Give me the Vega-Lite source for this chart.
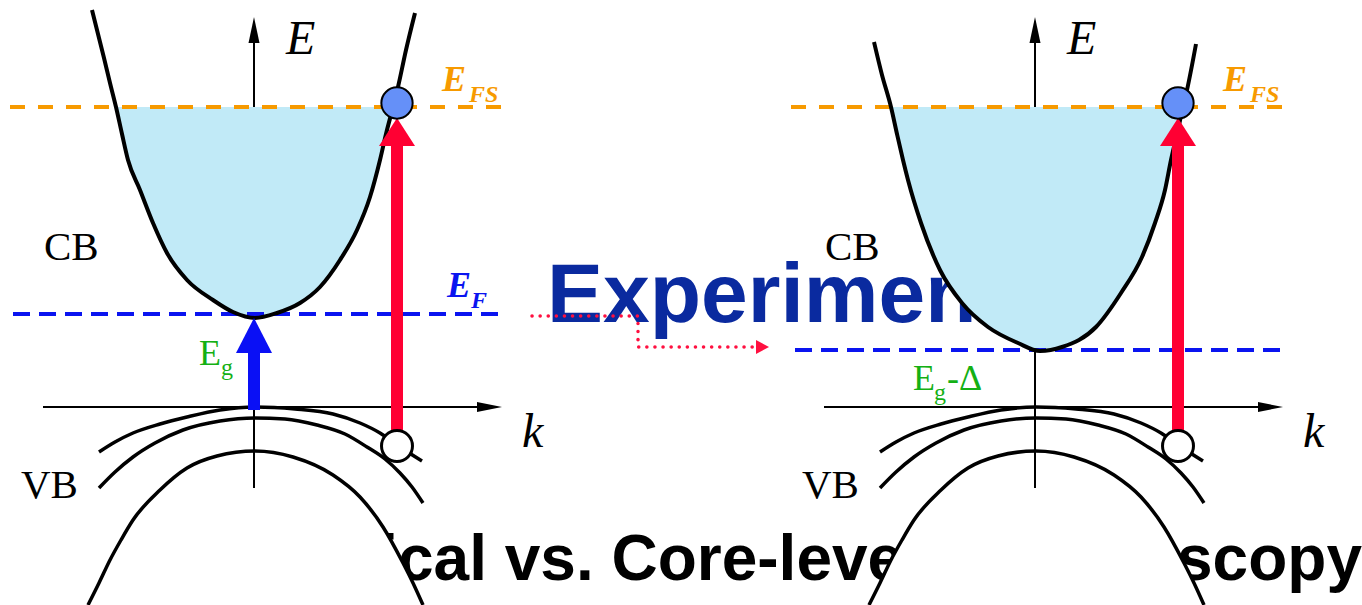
{
  "$schema": "https://vega.github.io/schema/vega-lite/v6.json",
  "width": 1362,
  "height": 605,
  "padding": 0,
  "autosize": {"type": "none"},
  "background": "white",
  "config": {"view": {"stroke": null}, "axis": {"disable": true}, "legend": {"disable": true}},
  "datasets": {
    "labels": [
      {"g": "exp", "x": 547, "y": 322, "t": "Experiment"},
      {"g": "title", "x": 270, "y": 580, "t": "Optical vs. Core-level Spectroscopy"},
      {"g": "ital", "x": 286, "y": 54, "t": "E"},
      {"g": "ital", "x": 1067, "y": 54, "t": "E"},
      {"g": "ital", "x": 522, "y": 447, "t": "k"},
      {"g": "ital", "x": 1303, "y": 447, "t": "k"},
      {"g": "serif", "x": 44, "y": 260, "t": "CB"},
      {"g": "serif", "x": 825, "y": 260, "t": "CB"},
      {"g": "serif", "x": 21, "y": 498, "t": "VB"},
      {"g": "serif", "x": 802, "y": 498, "t": "VB"},
      {"g": "efs", "x": 442, "y": 91, "t": "E"},
      {"g": "efs", "x": 1223, "y": 91, "t": "E"},
      {"g": "efs_sub", "x": 469, "y": 102, "t": "FS"},
      {"g": "efs_sub", "x": 1250, "y": 102, "t": "FS"},
      {"g": "ef", "x": 447, "y": 297, "t": "E"},
      {"g": "ef_sub", "x": 471, "y": 308, "t": "F"},
      {"g": "eg", "x": 199, "y": 365, "t": "E"},
      {"g": "eg", "x": 913, "y": 390, "t": "E"},
      {"g": "eg", "x": 947, "y": 390, "t": "-Δ"},
      {"g": "eg_sub", "x": 221, "y": 375, "t": "g"},
      {"g": "eg_sub", "x": 934, "y": 400, "t": "g"}
    ],
    "cb": [
      {"id": "L", "x": 92, "y": 10}, {"id": "L", "x": 98, "y": 34}, {"id": "L", "x": 104, "y": 58},
      {"id": "L", "x": 110, "y": 83}, {"id": "L", "x": 116, "y": 107}, {"id": "L", "x": 122, "y": 134},
      {"id": "L", "x": 128, "y": 160}, {"id": "L", "x": 140, "y": 190}, {"id": "L", "x": 153, "y": 223},
      {"id": "L", "x": 167, "y": 253}, {"id": "L", "x": 187, "y": 280}, {"id": "L", "x": 213, "y": 300},
      {"id": "L", "x": 233, "y": 312}, {"id": "L", "x": 255, "y": 318}, {"id": "L", "x": 277, "y": 313},
      {"id": "L", "x": 300, "y": 303}, {"id": "L", "x": 320, "y": 287}, {"id": "L", "x": 340, "y": 260},
      {"id": "L", "x": 357, "y": 230}, {"id": "L", "x": 370, "y": 197}, {"id": "L", "x": 380, "y": 160},
      {"id": "L", "x": 386, "y": 134}, {"id": "L", "x": 393, "y": 107}, {"id": "L", "x": 398, "y": 87},
      {"id": "L", "x": 406, "y": 50}, {"id": "L", "x": 415, "y": 13},
      {"id": "R", "x": 874, "y": 42}, {"id": "R", "x": 882, "y": 75}, {"id": "R", "x": 891, "y": 107},
      {"id": "R", "x": 897, "y": 134}, {"id": "R", "x": 903, "y": 160}, {"id": "R", "x": 908, "y": 180},
      {"id": "R", "x": 921, "y": 223}, {"id": "R", "x": 940, "y": 270}, {"id": "R", "x": 962, "y": 303},
      {"id": "R", "x": 988, "y": 327}, {"id": "R", "x": 1018, "y": 343}, {"id": "R", "x": 1040, "y": 351},
      {"id": "R", "x": 1062, "y": 347}, {"id": "R", "x": 1096, "y": 327}, {"id": "R", "x": 1121, "y": 293},
      {"id": "R", "x": 1142, "y": 257}, {"id": "R", "x": 1155, "y": 223}, {"id": "R", "x": 1165, "y": 190},
      {"id": "R", "x": 1171, "y": 160}, {"id": "R", "x": 1177, "y": 134}, {"id": "R", "x": 1183, "y": 107},
      {"id": "R", "x": 1187, "y": 90}, {"id": "R", "x": 1196, "y": 44}
    ],
    "vb": [
      {"id": "L1", "x": 99, "y": 452}, {"id": "L1", "x": 115, "y": 442}, {"id": "L1", "x": 133, "y": 433},
      {"id": "L1", "x": 160, "y": 424}, {"id": "L1", "x": 187, "y": 417}, {"id": "L1", "x": 220, "y": 410},
      {"id": "L1", "x": 255, "y": 407}, {"id": "L1", "x": 295, "y": 409}, {"id": "L1", "x": 333, "y": 414},
      {"id": "L1", "x": 360, "y": 423}, {"id": "L1", "x": 380, "y": 433}, {"id": "L1", "x": 397, "y": 445},
      {"id": "L1", "x": 422, "y": 461},
      {"id": "L2", "x": 99, "y": 488}, {"id": "L2", "x": 115, "y": 472}, {"id": "L2", "x": 133, "y": 457},
      {"id": "L2", "x": 155, "y": 443}, {"id": "L2", "x": 183, "y": 430}, {"id": "L2", "x": 220, "y": 421},
      {"id": "L2", "x": 255, "y": 418}, {"id": "L2", "x": 285, "y": 419}, {"id": "L2", "x": 317, "y": 425},
      {"id": "L2", "x": 345, "y": 434}, {"id": "L2", "x": 367, "y": 447}, {"id": "L2", "x": 385, "y": 459},
      {"id": "L2", "x": 400, "y": 473}, {"id": "L2", "x": 412, "y": 487}, {"id": "L2", "x": 423, "y": 503},
      {"id": "L3", "x": 88, "y": 605}, {"id": "L3", "x": 99, "y": 583}, {"id": "L3", "x": 110, "y": 560},
      {"id": "L3", "x": 121, "y": 540}, {"id": "L3", "x": 133, "y": 520}, {"id": "L3", "x": 160, "y": 490},
      {"id": "L3", "x": 187, "y": 468}, {"id": "L3", "x": 217, "y": 456}, {"id": "L3", "x": 255, "y": 451},
      {"id": "L3", "x": 293, "y": 457}, {"id": "L3", "x": 333, "y": 475}, {"id": "L3", "x": 360, "y": 497},
      {"id": "L3", "x": 383, "y": 527}, {"id": "L3", "x": 403, "y": 563}, {"id": "L3", "x": 413, "y": 583},
      {"id": "L3", "x": 423, "y": 605},
      {"id": "R1", "x": 880, "y": 452}, {"id": "R1", "x": 896, "y": 442}, {"id": "R1", "x": 914, "y": 433},
      {"id": "R1", "x": 941, "y": 424}, {"id": "R1", "x": 968, "y": 417}, {"id": "R1", "x": 1001, "y": 410},
      {"id": "R1", "x": 1036, "y": 407}, {"id": "R1", "x": 1076, "y": 409}, {"id": "R1", "x": 1114, "y": 414},
      {"id": "R1", "x": 1141, "y": 423}, {"id": "R1", "x": 1161, "y": 433}, {"id": "R1", "x": 1178, "y": 445},
      {"id": "R1", "x": 1203, "y": 461},
      {"id": "R2", "x": 880, "y": 488}, {"id": "R2", "x": 896, "y": 472}, {"id": "R2", "x": 914, "y": 457},
      {"id": "R2", "x": 936, "y": 443}, {"id": "R2", "x": 964, "y": 430}, {"id": "R2", "x": 1001, "y": 421},
      {"id": "R2", "x": 1036, "y": 418}, {"id": "R2", "x": 1066, "y": 419}, {"id": "R2", "x": 1098, "y": 425},
      {"id": "R2", "x": 1126, "y": 434}, {"id": "R2", "x": 1148, "y": 447}, {"id": "R2", "x": 1166, "y": 459},
      {"id": "R2", "x": 1181, "y": 473}, {"id": "R2", "x": 1193, "y": 487}, {"id": "R2", "x": 1204, "y": 503},
      {"id": "R3", "x": 869, "y": 605}, {"id": "R3", "x": 880, "y": 583}, {"id": "R3", "x": 891, "y": 560},
      {"id": "R3", "x": 902, "y": 540}, {"id": "R3", "x": 914, "y": 520}, {"id": "R3", "x": 941, "y": 490},
      {"id": "R3", "x": 968, "y": 468}, {"id": "R3", "x": 998, "y": 456}, {"id": "R3", "x": 1036, "y": 451},
      {"id": "R3", "x": 1074, "y": 457}, {"id": "R3", "x": 1114, "y": 475}, {"id": "R3", "x": 1141, "y": 497},
      {"id": "R3", "x": 1164, "y": 527}, {"id": "R3", "x": 1184, "y": 563}, {"id": "R3", "x": 1194, "y": 583},
      {"id": "R3", "x": 1204, "y": 605}
    ],
    "rules": [
      {"g": "axis", "x": 254, "y": 43, "x2": 254, "y2": 488},
      {"g": "axis", "x": 1035, "y": 43, "x2": 1035, "y2": 488},
      {"g": "axis", "x": 43, "y": 407, "x2": 478, "y2": 407},
      {"g": "axis", "x": 824, "y": 407, "x2": 1259, "y2": 407},
      {"g": "orange", "x": 10, "y": 107, "x2": 502, "y2": 107},
      {"g": "orange", "x": 791, "y": 107, "x2": 1283, "y2": 107},
      {"g": "blue", "x": 13, "y": 314, "x2": 505, "y2": 314},
      {"g": "blue", "x": 795, "y": 350, "x2": 1287, "y2": 350},
      {"g": "blueshaft", "x": 254, "y": 410, "x2": 254, "y2": 352},
      {"g": "redshaft", "x": 397, "y": 432, "x2": 397, "y2": 144},
      {"g": "redshaft", "x": 1178, "y": 432, "x2": 1178, "y2": 144}
    ],
    "vheads": [
      {"g": "axis", "id": "a1", "x": 248.5, "y": 43, "yb": 43},
      {"g": "axis", "id": "a1", "x": 254, "y": 17, "yb": 43},
      {"g": "axis", "id": "a1", "x": 259.5, "y": 43, "yb": 43},
      {"g": "axis", "id": "a2", "x": 1029.5, "y": 43, "yb": 43},
      {"g": "axis", "id": "a2", "x": 1035, "y": 17, "yb": 43},
      {"g": "axis", "id": "a2", "x": 1040.5, "y": 43, "yb": 43},
      {"g": "blue", "id": "b1", "x": 236, "y": 353, "yb": 353},
      {"g": "blue", "id": "b1", "x": 254, "y": 318, "yb": 353},
      {"g": "blue", "id": "b1", "x": 272, "y": 353, "yb": 353},
      {"g": "red", "id": "r1", "x": 379, "y": 146, "yb": 146},
      {"g": "red", "id": "r1", "x": 397, "y": 118, "yb": 146},
      {"g": "red", "id": "r1", "x": 415, "y": 146, "yb": 146},
      {"g": "red", "id": "r2", "x": 1160, "y": 146, "yb": 146},
      {"g": "red", "id": "r2", "x": 1178, "y": 118, "yb": 146},
      {"g": "red", "id": "r2", "x": 1196, "y": 146, "yb": 146}
    ],
    "hheads": [
      {"g": "axis", "id": "k1", "x": 477, "y": 402, "xb": 477},
      {"g": "axis", "id": "k1", "x": 502, "y": 407, "xb": 477},
      {"g": "axis", "id": "k1", "x": 477, "y": 412, "xb": 477},
      {"g": "axis", "id": "k2", "x": 1258, "y": 402, "xb": 1258},
      {"g": "axis", "id": "k2", "x": 1283, "y": 407, "xb": 1258},
      {"g": "axis", "id": "k2", "x": 1258, "y": 412, "xb": 1258},
      {"g": "red", "id": "d1", "x": 756, "y": 340, "xb": 756},
      {"g": "red", "id": "d1", "x": 769, "y": 347, "xb": 756},
      {"g": "red", "id": "d1", "x": 756, "y": 354, "xb": 756}
    ],
    "dots": [
      {"i": 1, "x": 532, "y": 316},
      {"i": 2, "x": 638, "y": 316},
      {"i": 3, "x": 638, "y": 347},
      {"i": 4, "x": 755, "y": 347}
    ],
    "circ": [
      {"g": "full", "x": 397, "y": 103},
      {"g": "full", "x": 1178, "y": 103},
      {"g": "hole", "x": 397, "y": 446},
      {"g": "hole", "x": 1178, "y": 446}
    ]
  },
  "encoding": {
    "x": {"field": "x", "type": "quantitative", "axis": null, "scale": {"domain": [0, 1362], "nice": false, "zero": false}},
    "y": {"field": "y", "type": "quantitative", "axis": null, "scale": {"domain": [0, 605], "nice": false, "zero": false, "reverse": true}}
  },
  "layer": [
    {
      "data": {"name": "labels"},
      "transform": [{"filter": "datum.g === 'exp'"}],
      "mark": {"type": "text", "align": "left", "baseline": "alphabetic", "font": "Liberation Sans", "fontWeight": "bold", "fontSize": 84, "color": "#0a2a9f"},
      "encoding": {"text": {"field": "t"}}
    },
    {
      "data": {"name": "labels"},
      "transform": [{"filter": "datum.g === 'title'"}],
      "mark": {"type": "text", "align": "left", "baseline": "alphabetic", "font": "Liberation Sans", "fontWeight": "bold", "fontSize": 64, "color": "#000000"},
      "encoding": {"text": {"field": "t"}}
    },
    {
      "data": {"name": "vb"},
      "transform": [{"filter": "datum.id === 'L3' || datum.id === 'R3'"}],
      "mark": {"type": "area", "interpolate": "monotone", "color": "#ffffff", "opacity": 1},
      "encoding": {"y2": {"datum": 605}, "detail": {"field": "id"}}
    },
    {
      "data": {"name": "rules"},
      "transform": [{"filter": "datum.g === 'axis'"}],
      "mark": {"type": "rule", "color": "#000000", "strokeWidth": 2},
      "encoding": {"x2": {"field": "x2"}, "y2": {"field": "y2"}}
    },
    {
      "data": {"name": "cb"},
      "transform": [{"filter": "datum.y >= 107"}],
      "mark": {"type": "area", "interpolate": "monotone", "color": "#c1eaf7", "opacity": 1},
      "encoding": {"y2": {"datum": 107}, "detail": {"field": "id"}}
    },
    {
      "data": {"name": "rules"},
      "transform": [{"filter": "datum.g === 'orange'"}],
      "mark": {"type": "rule", "color": "#f79a00", "strokeWidth": 4, "strokeDash": [15, 13]},
      "encoding": {"x2": {"field": "x2"}, "y2": {"field": "y2"}}
    },
    {
      "data": {"name": "rules"},
      "transform": [{"filter": "datum.g === 'blue'"}],
      "mark": {"type": "rule", "color": "#0a14f0", "strokeWidth": 4, "strokeDash": [17, 9]},
      "encoding": {"x2": {"field": "x2"}, "y2": {"field": "y2"}}
    },
    {
      "data": {"name": "cb"},
      "mark": {"type": "line", "interpolate": "monotone", "color": "#000000", "strokeWidth": 4},
      "encoding": {"detail": {"field": "id"}}
    },
    {
      "data": {"name": "vb"},
      "mark": {"type": "line", "interpolate": "monotone", "color": "#000000", "strokeWidth": 3.5},
      "encoding": {"detail": {"field": "id"}}
    },
    {
      "data": {"name": "vheads"},
      "transform": [{"filter": "datum.g === 'axis'"}],
      "mark": {"type": "area", "color": "#000000", "opacity": 1},
      "encoding": {"y2": {"field": "yb"}, "detail": {"field": "id"}}
    },
    {
      "data": {"name": "hheads"},
      "transform": [{"filter": "datum.g === 'axis'"}],
      "mark": {"type": "area", "orient": "horizontal", "color": "#000000", "opacity": 1},
      "encoding": {"x2": {"field": "xb"}, "detail": {"field": "id"}}
    },
    {
      "data": {"name": "rules"},
      "transform": [{"filter": "datum.g === 'blueshaft'"}],
      "mark": {"type": "rule", "color": "#0a10f5", "strokeWidth": 12},
      "encoding": {"x2": {"field": "x2"}, "y2": {"field": "y2"}}
    },
    {
      "data": {"name": "vheads"},
      "transform": [{"filter": "datum.g === 'blue'"}],
      "mark": {"type": "area", "color": "#0a10f5", "opacity": 1},
      "encoding": {"y2": {"field": "yb"}, "detail": {"field": "id"}}
    },
    {
      "data": {"name": "rules"},
      "transform": [{"filter": "datum.g === 'redshaft'"}],
      "mark": {"type": "rule", "color": "#ff0033", "strokeWidth": 12},
      "encoding": {"x2": {"field": "x2"}, "y2": {"field": "y2"}}
    },
    {
      "data": {"name": "vheads"},
      "transform": [{"filter": "datum.g === 'red'"}],
      "mark": {"type": "area", "color": "#ff0033", "opacity": 1},
      "encoding": {"y2": {"field": "yb"}, "detail": {"field": "id"}}
    },
    {
      "data": {"name": "dots"},
      "mark": {"type": "line", "color": "#ff1040", "strokeWidth": 3.5, "strokeCap": "round", "strokeDash": [0.1, 8]},
      "encoding": {"order": {"field": "i"}}
    },
    {
      "data": {"name": "hheads"},
      "transform": [{"filter": "datum.g === 'red'"}],
      "mark": {"type": "area", "orient": "horizontal", "color": "#ff1040", "opacity": 1},
      "encoding": {"x2": {"field": "xb"}, "detail": {"field": "id"}}
    },
    {
      "data": {"name": "circ"},
      "transform": [{"filter": "datum.g === 'full'"}],
      "mark": {"type": "point", "shape": "circle", "filled": true, "fill": "#6590f8", "stroke": "#000000", "strokeWidth": 2, "size": 980, "opacity": 1, "fillOpacity": 1, "strokeOpacity": 1}
    },
    {
      "data": {"name": "circ"},
      "transform": [{"filter": "datum.g === 'hole'"}],
      "mark": {"type": "point", "shape": "circle", "filled": true, "fill": "#ffffff", "stroke": "#000000", "strokeWidth": 3, "size": 960, "opacity": 1, "fillOpacity": 1, "strokeOpacity": 1}
    },
    {
      "data": {"name": "labels"},
      "transform": [{"filter": "datum.g === 'ital'"}],
      "mark": {"type": "text", "align": "left", "baseline": "alphabetic", "font": "Liberation Serif", "fontStyle": "italic", "fontSize": 48, "color": "#000000"},
      "encoding": {"text": {"field": "t"}}
    },
    {
      "data": {"name": "labels"},
      "transform": [{"filter": "datum.g === 'serif'"}],
      "mark": {"type": "text", "align": "left", "baseline": "alphabetic", "font": "Liberation Serif", "fontSize": 41, "color": "#000000"},
      "encoding": {"text": {"field": "t"}}
    },
    {
      "data": {"name": "labels"},
      "transform": [{"filter": "datum.g === 'efs'"}],
      "mark": {"type": "text", "align": "left", "baseline": "alphabetic", "font": "Liberation Serif", "fontStyle": "italic", "fontWeight": "bold", "fontSize": 36, "color": "#f79a00"},
      "encoding": {"text": {"field": "t"}}
    },
    {
      "data": {"name": "labels"},
      "transform": [{"filter": "datum.g === 'efs_sub'"}],
      "mark": {"type": "text", "align": "left", "baseline": "alphabetic", "font": "Liberation Serif", "fontStyle": "italic", "fontWeight": "bold", "fontSize": 24, "color": "#f79a00"},
      "encoding": {"text": {"field": "t"}}
    },
    {
      "data": {"name": "labels"},
      "transform": [{"filter": "datum.g === 'ef'"}],
      "mark": {"type": "text", "align": "left", "baseline": "alphabetic", "font": "Liberation Serif", "fontStyle": "italic", "fontWeight": "bold", "fontSize": 36, "color": "#0a14f0"},
      "encoding": {"text": {"field": "t"}}
    },
    {
      "data": {"name": "labels"},
      "transform": [{"filter": "datum.g === 'ef_sub'"}],
      "mark": {"type": "text", "align": "left", "baseline": "alphabetic", "font": "Liberation Serif", "fontStyle": "italic", "fontWeight": "bold", "fontSize": 24, "color": "#0a14f0"},
      "encoding": {"text": {"field": "t"}}
    },
    {
      "data": {"name": "labels"},
      "transform": [{"filter": "datum.g === 'eg'"}],
      "mark": {"type": "text", "align": "left", "baseline": "alphabetic", "font": "Liberation Serif", "fontSize": 36, "color": "#14b014"},
      "encoding": {"text": {"field": "t"}}
    },
    {
      "data": {"name": "labels"},
      "transform": [{"filter": "datum.g === 'eg_sub'"}],
      "mark": {"type": "text", "align": "left", "baseline": "alphabetic", "font": "Liberation Serif", "fontSize": 24, "color": "#14b014"},
      "encoding": {"text": {"field": "t"}}
    }
  ]
}
